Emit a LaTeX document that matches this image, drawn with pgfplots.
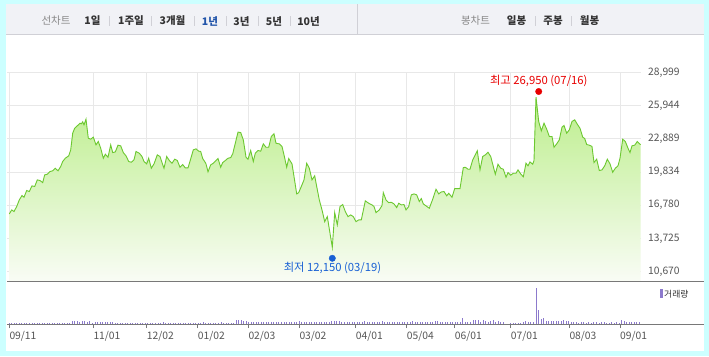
\documentclass[border=0pt]{standalone}
\usepackage{fontspec}
\setmainfont{Noto Sans CJK KR}
\usepackage{pgfplots}
\usepackage{pgfplotstable}
\pgfplotsset{compat=1.18}
\definecolor{bgcyan}{RGB}{204,255,255}
\definecolor{barbg}{RGB}{241,242,246}
\definecolor{barline}{RGB}{208,208,214}
\definecolor{gridc}{RGB}{232,232,232}
\definecolor{labc}{RGB}{85,85,85}
\definecolor{axc}{RGB}{120,120,120}
\definecolor{linegreen}{RGB}{108,200,48}
\definecolor{filltop}{RGB}{188,238,140}
\definecolor{fillbot}{RGB}{249,252,245}
\definecolor{volc}{RGB}{140,122,204}
\definecolor{maxred}{RGB}{232,0,0}
\definecolor{minblue}{RGB}{24,96,212}
\definecolor{tabdark}{RGB}{51,51,51}
\definecolor{tabgray}{RGB}{136,136,136}
\definecolor{tabblue}{RGB}{34,85,170}

\pgfplotstableread{
x y
9.3 15980
11.7 16350
14.0 16200
16.7 16660
19.3 17270
22.0 17670
24.0 17510
26.7 18130
29.3 18040
32.0 18560
34.7 18500
37.3 19110
40.0 19050
42.7 18860
44.7 19570
47.3 19630
50.0 19880
52.7 19940
55.3 20180
58.0 19940
60.7 20340
62.7 20800
65.3 21100
68.7 21320
70.7 21870
72.7 23400
74.7 23860
77.3 24080
80.0 24320
81.3 24260
82.7 24450
84.0 24170
86.0 24690
88.3 22940
90.7 22850
93.3 23040
96.0 22330
98.3 22640
100.7 22020
103.3 21100
105.3 21470
108.0 21190
110.7 22330
112.7 21620
115.3 21680
118.0 22300
120.7 22240
123.3 21620
126.0 21320
128.7 20800
131.3 20730
134.0 20950
136.0 21720
139.3 21560
142.0 21260
144.0 20800
146.7 20580
148.7 21100
151.3 20180
154.0 20580
157.3 21410
160.0 21260
162.0 20700
164.0 20180
166.7 21260
169.3 20890
172.0 20640
174.7 21010
177.3 20890
180.0 20270
182.7 20520
185.3 20210
188.0 20210
190.7 21040
193.3 21870
196.0 21960
198.7 21750
200.7 21720
202.7 21070
204.7 20800
206.0 20580
208.0 19850
210.7 20490
213.3 20640
216.0 20890
218.0 21070
220.7 20270
222.7 20700
225.3 20890
228.0 21100
230.7 21160
232.7 21500
235.3 22480
238.0 23500
240.7 23460
243.3 22790
246.0 21200
248.0 21010
250.7 21810
253.3 20800
255.3 21560
258.0 21810
260.7 21750
263.3 22420
266.0 22110
268.7 22110
271.3 23100
274.0 23340
276.0 22480
279.3 22420
282.0 22180
284.0 21410
286.7 20270
288.7 21070
292.0 20580
294.0 19420
296.7 17820
298.7 17940
301.3 18500
304.0 19110
306.7 20640
309.3 20180
312.0 19110
314.7 19480
316.7 18500
319.3 17270
322.0 16350
324.7 15270
327.3 15730
330.0 14200
332.3 12910
334.7 16100
337.3 14970
340.0 16660
342.7 16840
345.3 16200
348.0 15730
350.7 15890
353.3 15730
356.0 15270
358.7 15430
361.3 15430
365.3 17180
368.7 16960
372.0 16810
374.0 16660
376.0 16100
379.3 16350
382.0 16750
383.3 17940
386.0 17270
388.7 17020
391.3 17050
394.0 16900
396.7 16560
398.7 16960
401.3 16810
404.0 16840
406.0 16350
408.7 16660
411.3 17730
414.0 17820
416.7 17730
419.3 17120
421.3 17390
423.3 16900
426.0 16720
429.3 16500
432.7 17330
436.0 18250
438.7 17820
441.3 18000
444.0 18040
446.7 17640
448.7 17880
452.0 17510
454.7 18310
457.3 18310
460.0 18310
463.3 20240
465.3 20270
468.0 20090
470.0 20090
472.7 20950
475.3 21410
477.3 21780
480.0 20030
482.7 21260
485.3 21410
488.0 21650
490.7 21260
493.3 20340
495.3 19630
498.0 20550
500.7 20180
503.3 20090
506.0 19350
508.0 19780
510.7 19540
513.3 19720
516.0 19720
518.0 20030
520.7 19660
523.3 19390
526.0 20640
528.0 20400
530.0 20760
532.7 20550
534.0 20890
536.0 26720
538.7 24480
541.3 23620
544.0 24320
546.7 23770
549.3 23100
552.0 23100
554.0 22110
556.7 22420
559.3 22790
562.0 23960
564.0 24110
566.7 23400
569.3 23710
572.0 24480
574.7 24630
577.3 24230
580.0 23860
582.7 23040
584.7 22910
586.7 22360
589.3 22300
592.0 22180
594.0 20700
596.7 21010
599.3 19970
602.0 20030
604.7 20400
607.3 21010
610.0 20580
612.7 19810
615.3 20180
618.0 20400
620.0 21100
622.7 22850
625.3 22640
628.0 22020
630.0 21620
632.0 22240
634.7 22300
637.3 22640
640.0 22390
640.7 22360
}\pricedata

\pgfplotstableread{
v
100
90
110
80
100
120
90
100
110
90
100
80
120
100
90
110
100
90
100
120
110
90
100
130
110
300
250
280
200
300
260
220
320
130
150
220
180
240
200
150
220
160
120
100
130
110
90
120
100
110
90
100
120
90
100
90
100
80
110
120
90
150
100
110
90
120
100
80
110
100
90
130
100
110
120
100
120
150
110
130
140
120
100
130
150
120
110
140
130
120
400
420
380
300
250
220
180
200
160
190
220
170
200
180
210
190
160
200
230
180
170
190
210
160
200
300
180
200
160
190
210
170
230
200
180
160
200
220
280
300
260
250
200
180
150
200
170
230
180
160
200
280
200
170
150
190
220
180
280
200
160
180
150
170
200
160
190
150
180
210
330
200
180
160
150
190
200
170
230
300
290
200
170
150
210
200
180
160
200
220
570
180
150
200
400
420
410
200
350
250
220
300
400
200
280
180
150
40
30
50
60
130
130
120
150
330
200
180
200
3600
1400
500
600
300
300
280
320
300
260
300
400
330
250
200
150
180
120
200
150
130
180
140
200
160
130
150
180
120
140
160
130
150
120
400
250
220
200
240
180
200
150
}\voldata

\begin{document}
\begin{tikzpicture}[x=1pt,y=1pt]
% background and panels
\fill[bgcyan] (0,0) rectangle (709,356);
\fill[white] (6,5.5) rectangle (703.5,352);
\fill[barbg] (6,322) rectangle (703.5,352);
\draw[barline, line width=0.8pt] (6,322) -- (703.5,322);
\draw[barline, line width=0.8pt] (357,322) -- (357,352);
% tab separators
\foreach \sx in {109,151.7,194,226,258,290,535,571}
  \draw[barline, line width=0.6pt] (\sx,330) -- (\sx,340);
% tab texts
\begin{scope}[every node/.style={inner sep=0pt, font=\fontsize{10.5}{12}\selectfont}]
\node[text=tabgray] at (56,335) {선차트};
\node[text=tabdark, font=\fontsize{10.5}{12}\selectfont\bfseries] at (92.5,335) {1일};
\node[text=tabdark, font=\fontsize{10.5}{12}\selectfont\bfseries] at (131,335) {1주일};
\node[text=tabdark, font=\fontsize{10.5}{12}\selectfont\bfseries] at (172.5,335) {3개월};
\node[text=tabblue, font=\fontsize{10.5}{12}\selectfont\bfseries] at (210,335) {1년};
\node[text=tabdark, font=\fontsize{10.5}{12}\selectfont\bfseries] at (241.5,335) {3년};
\node[text=tabdark, font=\fontsize{10.5}{12}\selectfont\bfseries] at (274,335) {5년};
\node[text=tabdark, font=\fontsize{10.5}{12}\selectfont\bfseries] at (308.5,335) {10년};
\node[text=tabgray] at (475.5,335) {봉차트};
\node[text=tabdark, font=\fontsize{10.5}{12}\selectfont\bfseries] at (516.5,335) {일봉};
\node[text=tabdark, font=\fontsize{10.5}{12}\selectfont\bfseries] at (553,335) {주봉};
\node[text=tabdark, font=\fontsize{10.5}{12}\selectfont\bfseries] at (589.5,335) {월봉};
\end{scope}

% main price chart
\begin{axis}[
  at={(7pt,75pt)}, anchor=south west,
  scale only axis, width=634pt, height=208.7pt,
  xmin=7, xmax=641, ymin=9814, ymax=28999,
  axis line style={draw=none},
  scaled y ticks=false, scaled x ticks=false,
  xtick={9.3,93.3,146.7,197.7,248.3,299.3,355.7,406.7,454.7,510.7,569.3,620},
  xticklabels={},
  ytick={10670,13725,16780,19834,22889,25944,28999},
  yticklabels={{10,670},{13,725},{16,780},{19,834},{22,889},{25,944},{28,999}},
  ytick pos=right, yticklabel pos=right,
  major tick length=0pt,
  grid=major, grid style={draw=gridc, line width=0.8pt},
  yticklabel style={font=\fontsize{10.3}{12}\selectfont, text=labc, anchor=west, inner sep=0pt, xshift=7pt},
  clip=false,
]
\addplot[draw=none, top color=filltop, bottom color=fillbot] table[x=x,y=y] {\pricedata}
  -- (axis cs:640.7,9814) -- (axis cs:9.3,9814) -- cycle;
\addplot[draw=linegreen, line width=0.9pt, mark=none] table[x=x,y=y] {\pricedata};
\addplot[only marks, mark=*, mark size=3.2pt, color=maxred] coordinates {(538.7,27234)};
\addplot[only marks, mark=*, mark size=3.2pt, color=minblue] coordinates {(332.3,11903)};
\node[text=maxred, font=\fontsize{11.3}{13}\selectfont, inner sep=0pt] at (axis cs:538.8,28246) {최고 26,950 (07/16)};
\node[text=minblue, font=\fontsize{11.3}{13}\selectfont, inner sep=0pt] at (axis cs:332.5,11010) {최저 12,150 (03/19)};
\end{axis}

% volume chart
\begin{axis}[
  at={(7pt,32pt)}, anchor=south west,
  scale only axis, width=634pt, height=43pt,
  xmin=7, xmax=641, ymin=0, ymax=4300,
  axis line style={draw=none},
  scaled y ticks=false, scaled x ticks=false,
  ytick=\empty,
  xtick={9.3,93.3,146.7,197.7,248.3,299.3,355.7,406.7,454.7,510.7,569.3,620},
  xticklabels={09/11,11/01,12/02,01/02,02/03,03/02,04/01,05/04,06/01,07/01,08/03,09/01},
  xtick pos=bottom, tick align=outside,
  major tick length=4pt,
  tick style={draw=axc, line width=0.8pt},
  xticklabel style={font=\fontsize{10.3}{12}\selectfont, text=labc, anchor=north west, inner sep=0pt, xshift=0pt, yshift=-3pt},
  clip=false,
]
\addplot[ycomb, draw=volc, line width=0.9pt, mark=none] table[x expr=9.3+2.52*\coordindex, y=v] {\voldata};
\end{axis}

% axis baselines
\draw[axc, line width=0.8pt] (7,75) -- (703.5,75);
\draw[axc, line width=0.8pt] (7,32) -- (703.5,32);
% volume legend
\fill[volc] (660,57.5) rectangle (662.5,66.5);
\node[anchor=west, inner sep=0pt, text=tabdark, font=\fontsize{8.8}{10}\selectfont] at (664,62) {거래량};
\end{tikzpicture}
\end{document}
